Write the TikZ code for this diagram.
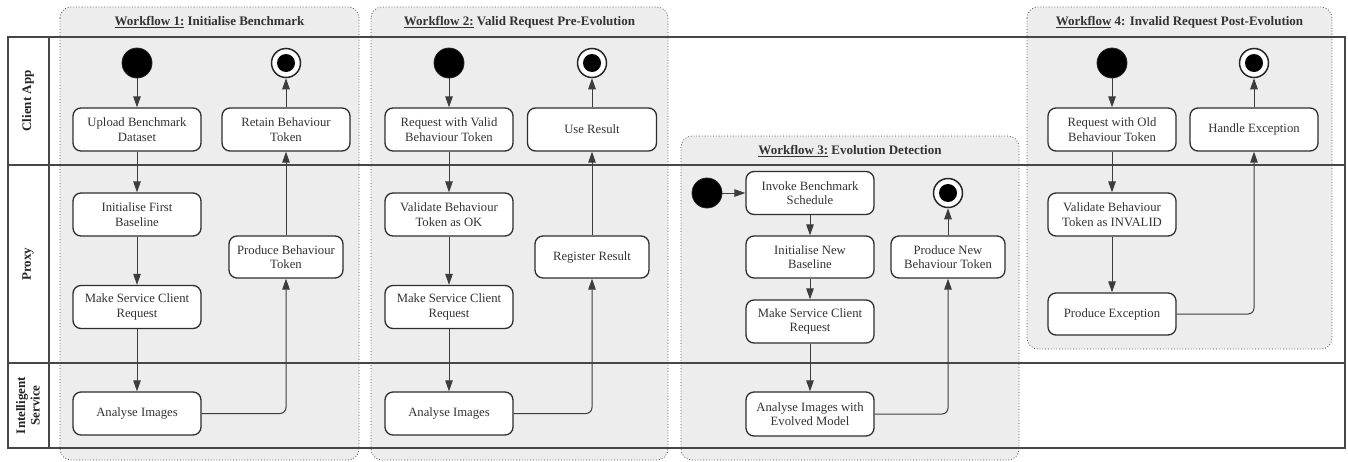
\documentclass[tikz,border=0pt]{standalone}
\usepackage{fontspec}
\setmainfont{Liberation Serif}
\newfontfamily\tmsfont{Liberation Serif}
\usetikzlibrary{arrows.meta}
\tikzset{
  x=1pt, y=-1pt,
  act/.style={rectangle, rounded corners=8pt, draw=black!82, line width=1.3pt, fill=white,
    minimum width=128pt, minimum height=43pt, inner sep=0pt, align=center, text=black!80,
    font=\tmsfont\fontsize{12.7}{14.5}\selectfont},
  startst/.style={circle, fill=black, draw=black!85, line width=0.8pt, minimum size=30pt, inner sep=0pt},
  endst/.style={circle, fill=white, draw=black!85, line width=1.5pt, minimum size=29pt, inner sep=0pt,
    path picture={\fill[black] (path picture bounding box.center) circle (9pt);}},
  arr/.style={draw=black!76, line width=1pt, rounded corners=6pt, -{Triangle[length=11pt,width=7.5pt]}},
  wfbox/.style={rounded corners=11pt},
  wfborder/.style={draw=black!70, dotted, line width=0.8pt, rounded corners=11pt},
  lane/.style={draw=black!72, line width=1.5pt},
  wftitle/.style={font=\tmsfont\bfseries\fontsize{13}{15}\selectfont, text=black!80},
  lanelab/.style={font=\tmsfont\bfseries\fontsize{13}{14.5}\selectfont, text=black!85, rotate=90, align=center},
}
\begin{document}
\begin{tikzpicture}
\useasboundingbox (0,0) rectangle (1348,461);
\fill[white] (0,0) rectangle (1348,461);
% workflow backgrounds
\fill[gray!14, wfbox] (60,7) rectangle (359,460);
\fill[gray!14, wfbox] (371,7) rectangle (668,460);
\fill[gray!14, wfbox] (681,136) rectangle (1019,460);
\fill[gray!14, wfbox] (1027,7) rectangle (1332,349);
% swimlanes
\draw[lane] (8,37) rectangle (1345,448);
\draw[lane] (49,37) -- (49,448);
\draw[lane] (8,165) -- (1345,165);
\draw[lane] (8,363) -- (1345,363);
% borders
\draw[wfborder] (60,7) rectangle (359,460);
\draw[wfborder] (371,7) rectangle (668,460);
\draw[wfborder] (681,136) rectangle (1019,460);
\draw[wfborder] (1027,7) rectangle (1332,349);
% titles
\node[wftitle] (t1) at (209.5,22) {\underline{Workflow 1:} Initialise Benchmark};
\node[wftitle] (t2) at (519.5,22) {\underline{Workflow 2:} Valid Request Pre-Evolution};
\node[wftitle] (t3) at (850,151) {\underline{Workflow 3:} Evolution Detection};
\node[wftitle] (t4) at (1179.5,22) {\underline{Workflow} 4: Invalid Request Post-Evolution};
% lane labels
\node[lanelab] (l1) at (28,101) {Client App};
\node[lanelab] (l2) at (28,264) {Proxy};
\node[lanelab] (l3) at (28,405.5) {Intelligent\\Service};
% Workflow 1
\node[startst] (s1) at (137,63) {};
\node[act] (u1) at (137,129.5) {Upload Benchmark\\Dataset};
\node[endst] (e1) at (286,63) {};
\node[act] (r1) at (286,129.5) {Retain Behaviour\\Token};
\node[act] (i1) at (137,214.5) {Initialise First\\Baseline};
\node[act, minimum width=114pt, minimum height=42pt] (p1) at (286,257) {Produce Behaviour\\Token};
\node[act] (m1) at (137,307) {Make Service Client\\Request};
\node[act] (a1) at (137,413.5) {Analyse Images};
\draw[arr] (s1) -- (u1);
\draw[arr] (u1) -- (i1);
\draw[arr] (i1) -- (m1);
\draw[arr] (m1) -- (a1);
\draw[arr] (a1) -| (p1);
\draw[arr] (p1) -- (r1);
\draw[arr] (r1) -- (e1);
% Workflow 2
\node[startst] (s2) at (449,63) {};
\node[act] (q2) at (449,129.5) {Request with Valid\\Behaviour Token};
\node[endst] (e2) at (592,63) {};
\node[act, minimum width=129pt] (ur2) at (592,129.5) {Use Result};
\node[act] (v2) at (449,214.5) {Validate Behaviour\\Token as OK};
\node[act, minimum width=114pt, minimum height=42pt] (rr2) at (592,257) {Register Result};
\node[act] (m2) at (449,307) {Make Service Client\\Request};
\node[act] (a2) at (449,413.5) {Analyse Images};
\draw[arr] (s2) -- (q2);
\draw[arr] (q2) -- (v2);
\draw[arr] (v2) -- (m2);
\draw[arr] (m2) -- (a2);
\draw[arr] (a2) -| (rr2);
\draw[arr] (rr2) -- (ur2);
\draw[arr] (ur2) -- (e2);
% Workflow 3
\node[startst] (s3) at (707,193) {};
\node[act] (ib3) at (810,193) {Invoke Benchmark\\Schedule};
\node[act, minimum height=42pt] (in3) at (810,257) {Initialise New\\Baseline};
\node[act] (m3) at (810,321.5) {Make Service Client\\Request};
\node[act, minimum height=44pt] (a3) at (810,414) {Analyse Images with\\Evolved Model};
\node[endst] (e3) at (948,193) {};
\node[act, minimum width=114pt, minimum height=42pt] (p3) at (948,257) {Produce New\\Behaviour Token};
\draw[arr] (s3) -- (ib3);
\draw[arr] (ib3) -- (in3);
\draw[arr] (in3) -- (m3);
\draw[arr] (m3) -- (a3);
\draw[arr] (a3) -| (p3);
\draw[arr] (p3) -- (e3);
% Workflow 4
\node[startst] (s4) at (1112,63) {};
\node[act] (q4) at (1112,129.5) {Request with Old\\Behaviour Token};
\node[endst] (e4) at (1254,63) {};
\node[act] (h4) at (1254,129.5) {Handle Exception};
\node[act] (v4) at (1112,214.5) {Validate Behaviour\\Token as INVALID};
\node[act, minimum height=42pt] (pe4) at (1112,314) {Produce Exception};
\draw[arr] (s4) -- (q4);
\draw[arr] (q4) -- (v4);
\draw[arr] (v4) -- (pe4);
\draw[arr] (pe4) -| (h4);
\draw[arr] (h4) -- (e4);
\end{tikzpicture}
\end{document}
